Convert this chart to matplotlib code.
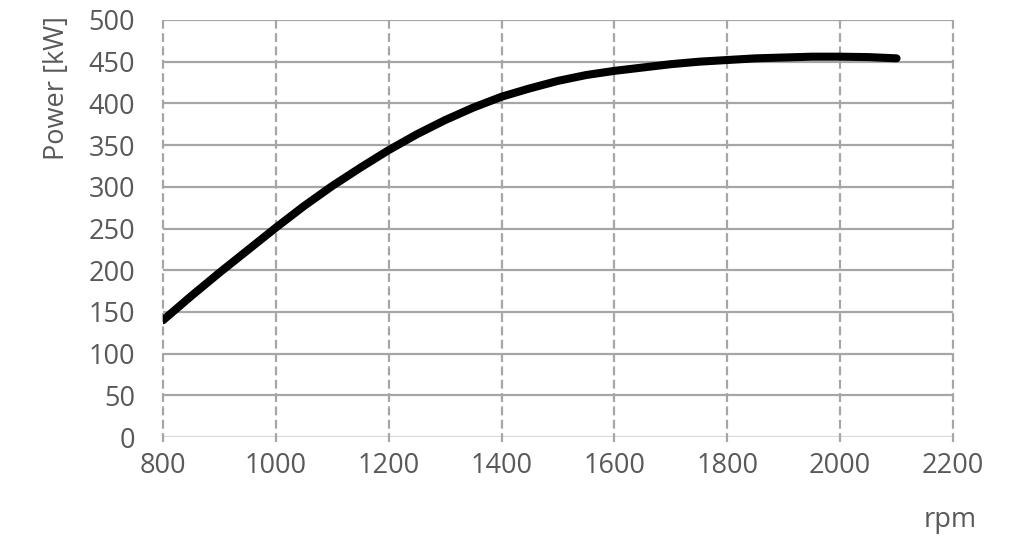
import matplotlib.pyplot as plt

# engine power curve
rpm = [800, 850, 900, 950, 1000, 1050, 1100, 1150, 1200, 1250, 1300, 1350, 1400,
       1450, 1500, 1550, 1600, 1650, 1700, 1750, 1800, 1850, 1900, 1950, 2000,
       2050, 2100]
power = [140, 169, 197, 224, 251, 277, 301, 323, 344, 363, 380, 395, 408,
         418, 427, 434, 439, 443, 447, 450, 452, 454, 455, 456, 456,
         455.5, 454]

x_ticks = [800, 1000, 1200, 1400, 1600, 1800, 2000, 2200]
y_ticks = [0, 50, 100, 150, 200, 250, 300, 350, 400, 450, 500]

plt.rcParams['font.family'] = ['Open Sans', 'DejaVu Sans']
txt = '#595959'
fs = 19.5

fig = plt.figure(figsize=(10.2, 5.4), dpi=100)
ax = fig.add_axes([0.1598, 0.1907, 0.7745, 0.7723])

# grid: solid horizontals, dashed verticals
for y in y_ticks[1:]:
    ax.axhline(y, color='#a6a6a6', lw=1.6, zorder=1)
ax.axhline(0, color='#d9d9d9', lw=1.6, zorder=1)
for x in x_ticks:
    ax.plot([x, x], [-6, 500], color='#a6a6a6', lw=1.6, ls=(0, (4, 2)),
            zorder=1, clip_on=False)

ax.plot(rpm, power, color='black', lw=5.8, solid_capstyle='round',
        solid_joinstyle='round', zorder=3)

ax.set_xlim(800, 2200)
ax.set_ylim(0, 500)
ax.set_xticks(x_ticks)
ax.set_yticks(y_ticks)
ax.tick_params(length=0, labelsize=fs, labelcolor=txt)
ax.tick_params(axis='y', pad=20)
ax.tick_params(axis='x', pad=11)
for s in ax.spines.values():
    s.set_visible(False)

# axis title sits high up, as in the original
ax.set_ylabel('Power [kW]', fontsize=fs, color=txt)
ax.yaxis.set_label_coords(-0.117, 0.837)
fig.text(0.932, 0.025, 'rpm', fontsize=fs, color=txt, ha='center')

fig.savefig('out.png', dpi=100, facecolor='white')
